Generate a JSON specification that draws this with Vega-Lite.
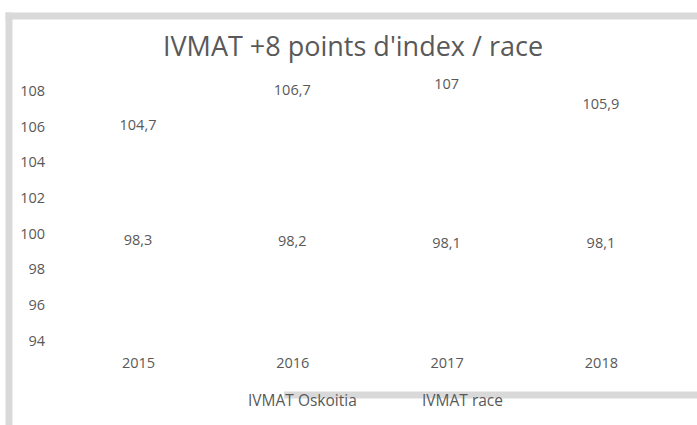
{
  "$schema": "https://vega.github.io/schema/vega-lite/v6.json",
  "width": 689,
  "height": 409.5,
  "autosize": {"type": "none"},
  "padding": {"left": 8.5, "top": 15.5, "right": 0, "bottom": 0},
  "background": "white",
  "config": {
    "view": {"stroke": null},
    "font": "Open Sans",
    "locale": {"number": {"decimal": ",", "thousands": " ", "grouping": [3], "currency": ["", " €"]}}
  },
  "title": {
    "text": "IVMAT +8 points d'index / race",
    "font": "Open Sans",
    "fontSize": 27,
    "fontWeight": "normal",
    "color": "#595959",
    "anchor": "middle",
    "frame": "group",
    "baseline": "alphabetic",
    "offset": -67
  },
  "data": {
    "values": [
      {"year": 2015, "series": "IVMAT Oskoitia", "value": 104.7},
      {"year": 2016, "series": "IVMAT Oskoitia", "value": 106.7},
      {"year": 2017, "series": "IVMAT Oskoitia", "value": 107},
      {"year": 2018, "series": "IVMAT Oskoitia", "value": 105.9},
      {"year": 2015, "series": "IVMAT race", "value": 98.3},
      {"year": 2016, "series": "IVMAT race", "value": 98.2},
      {"year": 2017, "series": "IVMAT race", "value": 98.1},
      {"year": 2018, "series": "IVMAT race", "value": 98.1}
    ]
  },
  "encoding": {
    "y": {
      "field": "value",
      "type": "quantitative",
      "scale": {"domain": [89.31, 112.25], "nice": false, "zero": false},
      "axis": {
        "title": null,
        "orient": "left",
        "values": [94, 96, 98, 100, 102, 104, 106, 108],
        "format": "d",
        "grid": false,
        "domain": true,
        "domainColor": "#d9d9d9",
        "domainWidth": 7,
        "domainCap": "square",
        "ticks": false,
        "tickSize": 0,
        "labelPadding": -36,
        "labelFontSize": 14.5,
        "labelColor": "#595959",
        "labelFont": "Open Sans"
      }
    },
    "text": {"field": "value", "type": "quantitative", "format": "~r"},
    "color": {
      "field": "series",
      "type": "nominal",
      "scale": {"range": ["#595959", "#595959"]},
      "legend": {
        "title": null,
        "orient": "none",
        "direction": "horizontal",
        "legendX": 224,
        "legendY": 377,
        "padding": 0,
        "symbolOpacity": 0,
        "symbolSize": 0,
        "symbolStrokeWidth": 0,
        "labelOffset": 0,
        "columnPadding": 49,
        "labelFontSize": 15.5,
        "labelColor": "#595959",
        "labelFont": "Open Sans"
      }
    }
  },
  "layer": [
    {
      "transform": [{"filter": "datum.series === 'IVMAT Oskoitia'"}],
      "mark": {"type": "text", "fontSize": 14.5, "dy": -24, "font": "Open Sans"},
      "encoding": {
        "x": {
          "field": "year",
          "type": "quantitative",
          "scale": {"domain": [2014.161, 2018.626], "nice": false, "zero": false},
          "axis": {
            "title": null,
            "orient": "bottom",
            "offset": -30.5,
            "values": [2015, 2016, 2017, 2018],
            "format": "d",
            "grid": false,
            "domain": true,
            "domainColor": "#d9d9d9",
            "domainWidth": 7,
            "domainCap": "butt",
            "domainDash": [0, 275, 1000],
            "ticks": false,
            "tickSize": 0,
            "labelPadding": -38,
            "labelFontSize": 14.5,
            "labelColor": "#595959",
            "labelFont": "Open Sans"
          }
        }
      }
    },
    {
      "transform": [{"filter": "datum.series === 'IVMAT race'"}],
      "mark": {"type": "text", "fontSize": 14.5, "dy": -24, "font": "Open Sans"},
      "encoding": {
        "x": {
          "field": "year",
          "type": "quantitative",
          "scale": {"domain": [2014.161, 2018.626], "nice": false, "zero": false},
          "axis": {
            "title": null,
            "orient": "top",
            "grid": false,
            "labels": false,
            "ticks": false,
            "domain": true,
            "domainColor": "#d9d9d9",
            "domainWidth": 7,
            "domainCap": "square"
          }
        }
      }
    }
  ],
  "resolve": {"axis": {"x": "independent"}}
}
